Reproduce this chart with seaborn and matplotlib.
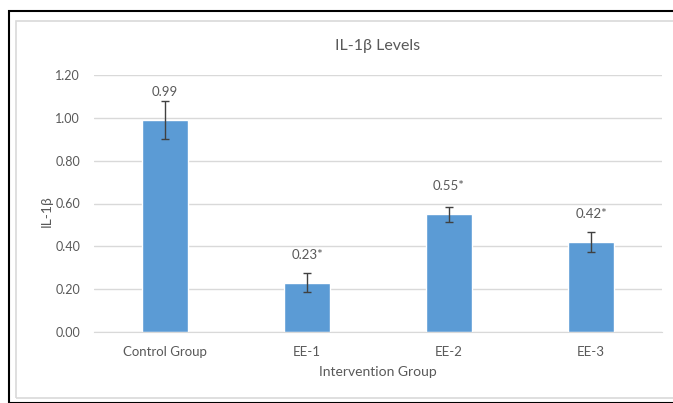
import matplotlib
matplotlib.use("Agg")
import matplotlib.pyplot as plt
from matplotlib.patches import Rectangle
import seaborn as sns

# data
groups = ["Control Group", "EE-1", "EE-2", "EE-3"]
means = [0.99, 0.23, 0.55, 0.42]
errors = [0.09, 0.045, 0.035, 0.045]
labels = ["0.99", "0.23*", "0.55*", "0.42*"]
yticks = [0.0, 0.2, 0.4, 0.6, 0.8, 1.0, 1.2]

sns.set_style("white")
plt.rcParams["font.family"] = ["Lato", "DejaVu Sans"]
txt = "#595959"

fig = plt.figure(figsize=(6.73, 4.03), dpi=100)
W, H = 673, 403

# outer black frame and inner light grey chart border (pixel coords)
fig.patches.append(Rectangle((9 / W, 0), 1, 1 - 11 / H, transform=fig.transFigure,
                             fill=False, edgecolor="black", linewidth=1.5, figure=fig))
fig.patches.append(Rectangle((16 / W, 5 / H), 1, 1 - 26 / H, transform=fig.transFigure,
                             fill=False, edgecolor="#d9d9d9", linewidth=1.2, figure=fig))

ax = fig.add_axes([94 / W, 1 - 332 / H, (662 - 94) / W, (332 - 75) / H])

sns.barplot(x=groups, y=means, color="#5B9BD5", width=0.32, saturation=1, ax=ax, zorder=2)
ax.errorbar(range(len(groups)), means, yerr=errors, fmt="none", ecolor="#404040",
            elinewidth=1, capsize=3, capthick=1, zorder=3)

for i, (m, lab) in enumerate(zip(means, labels)):
    ax.annotate(lab, (i, m), xytext=(0, 20), textcoords="offset points",
                ha="center", va="center", fontsize=9.5, color=txt)

ax.set_xlim(-0.5, len(groups) - 0.5)
ax.set_ylim(0, 1.2)
ax.set_yticks(yticks)
ax.set_yticklabels([f"{t:.2f}" for t in yticks])
ax.grid(axis="y", color="#d9d9d9", linewidth=1, zorder=0)
ax.set_axisbelow(True)
for s in ["top", "right", "left"]:
    ax.spines[s].set_visible(False)
ax.spines["bottom"].set_color("#d9d9d9")
ax.tick_params(axis="both", length=0, labelsize=9.5, colors=txt)
ax.tick_params(axis="x", pad=10)
ax.tick_params(axis="y", pad=10, labelsize=9)

ax.set_xlabel("Intervention Group", fontsize=10, color=txt, labelpad=6)
ax.set_ylabel("IL-1β", fontsize=10, color=txt)
ax.yaxis.set_label_coords(-0.072, 0.47)
fig.text(378 / W, 1 - 46 / H, "IL-1β Levels", ha="center", va="center", fontsize=11.5, color=txt)

fig.savefig("out.png", dpi=100)
